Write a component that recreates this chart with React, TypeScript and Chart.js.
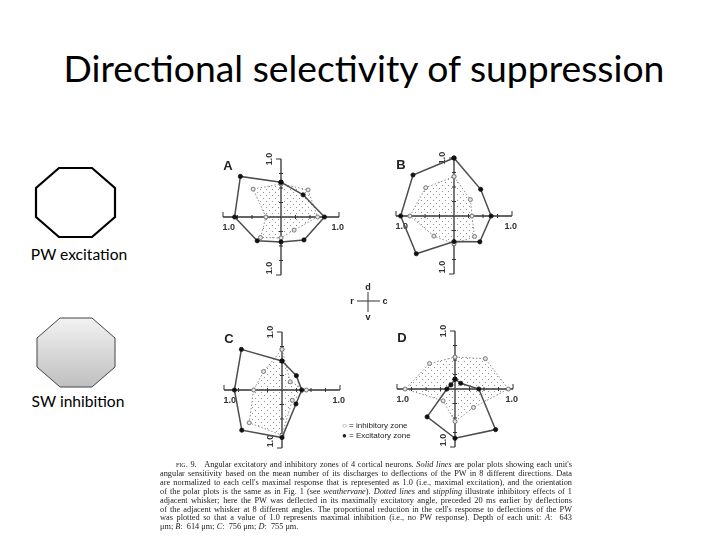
import React, { useEffect, useRef } from "react";
import { Chart, registerables } from "chart.js";

Chart.register(...registerables);

// ---------- data ----------
// Direction order (weathervane of Fig. 1): d, d-c, c, c-v, v, v-r, r, r-d
const DIRECTIONS = ["d", "d-c", "c", "c-v", "v", "v-r", "r", "r-d"];
const DIRECTION_ANGLES_DEG = [90, 45, 0, -45, -90, -135, 180, 135];

const A_EXCITATORY = [0.6, 0.54, 0.75, 0.56, 0.43, 0.58, 0.8, 0.99];
const A_INHIBITORY = [0.57, 0.66, 0.63, 0.32, 0.36, 0.5, 0.26, 0.68];

const B_EXCITATORY = [1.0, 0.65, 0.64, 0.63, 0.44, 0.92, 0.92, 1.0];
const B_INHIBITORY = [0.68, 0.4, 0.31, 0.5, 0.48, 0.49, 0.76, 0.69];

const C_EXCITATORY = [0.5, 0.35, 0.34, 0.34, 0.82, 0.98, 0.82, 0.99];
const C_INHIBITORY = [0.7, 0.2, 0.42, 0.25, 0.78, 0.8, 0.49, 0.45];

const D_EXCITATORY = [0.17, 0.14, 0.41, 0.99, 0.85, 0.68, 0.14, 0.1];
const D_INHIBITORY = [0.55, 0.74, 0.92, 0.45, 0.56, 0.29, 0.86, 0.62];

const AXIS_TICKS = [-1, -0.75, -0.5, -0.25, 0.25, 0.5, 0.75, 1];
const AXIS_END_LABEL = "1.0";

const TITLE = "Directional selectivity of suppression";
const LEFT_LABEL_TOP = "PW excitation";
const LEFT_LABEL_BOTTOM = "SW inhibition";
const LEGEND_INHIBITORY = "= inhibitory zone";
const LEGEND_EXCITATORY = "= Excitatory zone";

// ---------- helpers ----------
function toXY(values: number[]) {
  const pts = values.map((r, i) => {
    const a = (DIRECTION_ANGLES_DEG[i] * Math.PI) / 180;
    return { x: r * Math.cos(a), y: r * Math.sin(a) };
  });
  pts.push({ ...pts[0] });
  return pts;
}

function makeStipple(): CanvasPattern | string {
  const c = document.createElement("canvas");
  c.width = 6;
  c.height = 6;
  const g = c.getContext("2d");
  if (!g) return "rgba(150,150,150,0.3)";
  g.fillStyle = "rgba(120,120,120,0.8)";
  g.fillRect(1, 1, 1, 1);
  g.fillRect(4, 4, 1, 1);
  const p = g.createPattern(c, "repeat");
  return p || "rgba(150,150,150,0.3)";
}

const CW = 170;
const CH = 160;
const PAD_X = 27;
const PAD_Y = 22;

const polarAxesPlugin = {
  id: "polarAxes",
  beforeDatasetsDraw(chart: any) {
    const { ctx } = chart;
    const x = chart.scales.x;
    const y = chart.scales.y;
    const x0 = x.getPixelForValue(0);
    const y0 = y.getPixelForValue(0);
    ctx.save();
    ctx.strokeStyle = "#333";
    ctx.lineWidth = 1.3;
    ctx.beginPath();
    ctx.moveTo(x.getPixelForValue(-1), y0);
    ctx.lineTo(x.getPixelForValue(1), y0);
    ctx.moveTo(x0, y.getPixelForValue(1));
    ctx.lineTo(x0, y.getPixelForValue(-1));
    ctx.stroke();
    ctx.lineWidth = 1;
    ctx.beginPath();
    for (const t of AXIS_TICKS) {
      const px = x.getPixelForValue(t);
      const py = y.getPixelForValue(t);
      if (Math.abs(t) === 1) {
        ctx.moveTo(px, y0 - 5);
        ctx.lineTo(px, y0);
        ctx.moveTo(x0 - 5, py);
        ctx.lineTo(x0, py);
      } else {
        ctx.moveTo(px, y0 - 2);
        ctx.lineTo(px, y0 + 2);
        ctx.moveTo(x0 - 2, py);
        ctx.lineTo(x0 + 2, py);
      }
    }
    ctx.stroke();
    ctx.fillStyle = "#333";
    ctx.font = "bold 9px 'Liberation Sans', Arial, sans-serif";
    ctx.textAlign = "center";
    ctx.textBaseline = "middle";
    ctx.fillText(AXIS_END_LABEL, x.getPixelForValue(-0.9), y0 + 11);
    ctx.fillText(AXIS_END_LABEL, x.getPixelForValue(0.98), y0 + 11);
    for (const v of [1.0, -0.88]) {
      ctx.save();
      ctx.translate(x0 - 11, y.getPixelForValue(v));
      ctx.rotate(-Math.PI / 2);
      ctx.fillText(AXIS_END_LABEL, 0, 0);
      ctx.restore();
    }
    ctx.restore();
  },
  afterDraw(chart: any, _args: any, opts: any) {
    const { ctx } = chart;
    const x = chart.scales.x;
    const y = chart.scales.y;
    ctx.save();
    ctx.fillStyle = "#222";
    ctx.font = "bold 13px 'Liberation Sans', Arial, sans-serif";
    ctx.textAlign = "center";
    ctx.textBaseline = "middle";
    ctx.fillText(opts.letter || "", x.getPixelForValue(0) - 53, y.getPixelForValue(0) - 51);
    ctx.restore();
  },
};

function PolarPanel(props: {
  letter: string;
  exc: number[];
  inh: number[];
  cx: number;
  cy: number;
}) {
  const ref = useRef<HTMLCanvasElement | null>(null);
  useEffect(() => {
    if (!ref.current) return;
    const chart = new Chart(ref.current, {
      type: "scatter",
      data: {
        labels: DIRECTIONS,
        datasets: [
          {
            label: "Excitatory zone",
            data: toXY(props.exc),
            showLine: true,
            borderColor: "#4d4d4d",
            borderWidth: 1.5,
            pointRadius: 2.1,
            pointBackgroundColor: "#111",
            pointBorderColor: "#111",
            pointBorderWidth: 0.8,
            fill: false,
            clip: false,
          } as any,
          {
            label: "Inhibitory zone",
            data: toXY(props.inh),
            showLine: true,
            borderColor: "#8a8a8a",
            borderWidth: 1,
            borderDash: [1.5, 2],
            pointRadius: 2,
            pointBackgroundColor: "#e6e6e6",
            pointBorderColor: "#777",
            pointBorderWidth: 1,
            backgroundColor: makeStipple(),
            fill: "shape",
            clip: false,
          } as any,
        ],
      },
      options: {
        animation: false,
        responsive: false,
        events: [],
        layout: { padding: { left: PAD_X, right: PAD_X, top: PAD_Y, bottom: PAD_Y } },
        scales: {
          x: { type: "linear", min: -1, max: 1, display: false },
          y: { type: "linear", min: -1, max: 1, display: false },
        },
        plugins: {
          legend: { display: false },
          tooltip: { enabled: false },
          polarAxes: { letter: props.letter },
        } as any,
      },
      plugins: [polarAxesPlugin as any],
    });
    return () => chart.destroy();
  }, []);
  return (
    <canvas
      ref={ref}
      width={CW}
      height={CH}
      style={{
        position: "absolute",
        left: props.cx - CW / 2,
        top: props.cy - CH / 2,
        width: CW,
        height: CH,
      }}
    />
  );
}

function octagonPoints(x: number, y: number, w: number, h: number, cx: number, cy: number) {
  return [
    [x + cx, y],
    [x + w - cx, y],
    [x + w, y + cy],
    [x + w, y + h - cy],
    [x + w - cx, y + h],
    [x + cx, y + h],
    [x, y + h - cy],
    [x, y + cy],
  ]
    .map((p) => p.join(","))
    .join(" ");
}

const CAPTION_LINES: React.ReactNode[] = [
  <>
    <span style={{ fontVariant: "small-caps" }}>fig. 9.</span>&nbsp;&nbsp; Angular excitatory and inhibitory zones of 4 cortical neurons. <i>Solid lines</i> are polar plots showing each unit's
  </>,
  <>angular sensitivity based on the mean number of its discharges to deflections of the PW in 8 different directions. Data</>,
  <>are normalized to each cell's maximal response that is represented as 1.0 (i.e., maximal excitation), and the orientation</>,
  <>
    of the polar plots is the same as in Fig. 1 (see <i>weathervane</i>). <i>Dotted lines</i> and <i>stippling</i> illustrate inhibitory effects of 1
  </>,
  <>adjacent whisker; here the PW was deflected in its maximally excitatory angle, preceded 20 ms earlier by deflections</>,
  <>of the adjacent whisker at 8 different angles. The proportional reduction in the cell's response to deflections of the PW</>,
  <>
    was plotted so that a value of 1.0 represents maximal inhibition (i.e., no PW response). Depth of each unit: <i>A</i>: &nbsp;643
  </>,
];
const CAPTION_LAST = (
  <>
    μm; <i>B</i>: &nbsp;614 μm; <i>C</i>: &nbsp;756 μm; <i>D</i>: &nbsp;755 μm.
  </>
);

export default function App() {
  return (
    <div
      style={{
        position: "absolute",
        left: 0,
        top: 0,
        width: 728,
        height: 546,
        background: "#fff",
        overflow: "hidden",
      }}
    >
      <div
        style={{
          position: "absolute",
          left: 0,
          top: 46,
          width: 728,
          textAlign: "center",
          fontFamily: "Lato, 'Open Sans', sans-serif",
          fontSize: 37.3,
          lineHeight: "44px",
          color: "#000",
          whiteSpace: "nowrap",
        }}
      >
        {TITLE}
      </div>

      <svg
        width={150}
        height={260}
        style={{ position: "absolute", left: 0, top: 160 }}
      >
        <defs>
          <linearGradient id="greyGrad" x1="0" y1="0" x2="0" y2="1">
            <stop offset="0" stopColor="#f2f2f2" />
            <stop offset="1" stopColor="#bfbfbf" />
          </linearGradient>
        </defs>
        <polygon
          points={octagonPoints(36, 8, 79, 69, 23, 20)}
          fill="#fff"
          stroke="#000"
          strokeWidth={2.2}
        />
        <polygon
          points={octagonPoints(37, 158, 78, 69, 23, 20)}
          fill="url(#greyGrad)"
          stroke="#444"
          strokeWidth={1}
        />
      </svg>
      <div
        style={{
          position: "absolute",
          left: 0,
          top: 244,
          width: 158,
          textAlign: "center",
          fontFamily: "Lato, 'Open Sans', sans-serif",
          fontSize: 15.6,
          lineHeight: "20px",
        }}
      >
        {LEFT_LABEL_TOP}
      </div>
      <div
        style={{
          position: "absolute",
          left: 0,
          top: 391,
          width: 156,
          textAlign: "center",
          fontFamily: "Lato, 'Open Sans', sans-serif",
          fontSize: 15.6,
          lineHeight: "20px",
        }}
      >
        {LEFT_LABEL_BOTTOM}
      </div>

      <PolarPanel letter="A" exc={A_EXCITATORY} inh={A_INHIBITORY} cx={281} cy={217} />
      <PolarPanel letter="B" exc={B_EXCITATORY} inh={B_INHIBITORY} cx={454} cy={216} />
      <PolarPanel letter="C" exc={C_EXCITATORY} inh={C_INHIBITORY} cx={282} cy={390} />
      <PolarPanel letter="D" exc={D_EXCITATORY} inh={D_INHIBITORY} cx={455} cy={389} />

      <svg width={50} height={40} style={{ position: "absolute", left: 344, top: 282 }}>
        <line x1={24} y1={10} x2={24} y2={30} stroke="#333" strokeWidth={1} />
        <line x1={13} y1={19} x2={36} y2={19} stroke="#333" strokeWidth={1} />
        <g
          fontFamily="'Liberation Sans', Arial, sans-serif"
          fontSize={9}
          fontWeight="bold"
          fill="#222"
          textAnchor="middle"
        >
          <text x={24} y={8}>d</text>
          <text x={8} y={22}>r</text>
          <text x={41} y={22}>c</text>
          <text x={24} y={38}>v</text>
        </g>
      </svg>

      <div
        style={{
          position: "absolute",
          left: 342,
          top: 421,
          fontFamily: "'Liberation Sans', Arial, sans-serif",
          fontSize: 8,
          lineHeight: "9.5px",
          color: "#222",
          whiteSpace: "nowrap",
        }}
      >
        <div>
          <span style={{ color: "#777" }}>○</span> {LEGEND_INHIBITORY}
        </div>
        <div>● {LEGEND_EXCITATORY}</div>
      </div>

      <div
        style={{
          position: "absolute",
          left: 160,
          top: 461,
          width: 412,
          fontFamily: "'Liberation Serif', 'Times New Roman', serif",
          fontSize: 8.3,
          lineHeight: "8.9px",
          color: "#222",
        }}
      >
        {CAPTION_LINES.map((line, i) => (
          <div
            key={i}
            style={{
              textAlign: "justify",
              textAlignLast: "justify",
              whiteSpace: "nowrap",
              paddingLeft: i === 0 ? 16 : 0,
            }}
          >
            {line}
          </div>
        ))}
        <div style={{ whiteSpace: "nowrap" }}>{CAPTION_LAST}</div>
      </div>
    </div>
  );
}
